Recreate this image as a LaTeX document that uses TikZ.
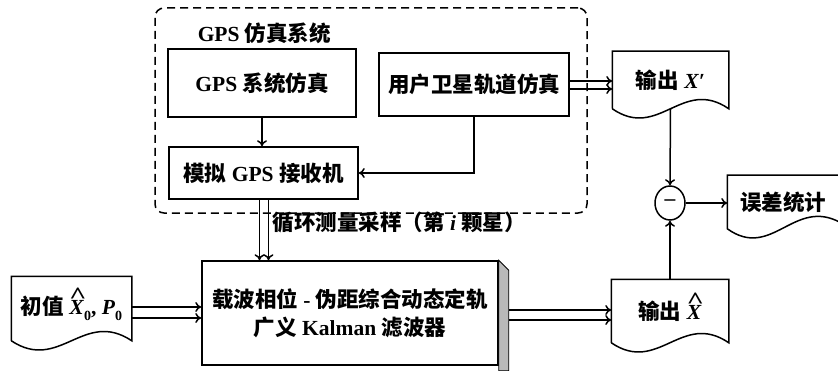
\documentclass[tikz,border=0pt]{standalone}
\usepackage{fontspec}
\usepackage{graphicx}
\setmainfont{Liberation Serif}
\newfontfamily\cjk{Noto Sans CJK SC}
\usetikzlibrary{arrows.meta,calc,shapes.geometric}
\newcommand\zh[1]{{\cjk #1}}
\newcommand\txtfont{\fontsize{21.5}{28}\selectfont\bfseries}
\newcommand\hatX{\ooalign{\textit{X}\cr\hidewidth\hspace{0.12em}\raisebox{0.5em}{\scalebox{1.4}[1.1]{\^{}}}\hidewidth\cr}}
\newcommand\docshape[2][]{%
  \draw[#1] (#2.south west) -- (#2.north west) -- (#2.north east) -- (#2.south east)
    .. controls ($(#2.south west)!0.6!(#2.south east)+(0,32)$) and ($(#2.south west)!0.4!(#2.south east)+(0,-32)$) .. (#2.south west);}
\begin{document}
\begin{tikzpicture}[x=1pt,y=1pt,line width=1.5pt,
  >={To[length=6pt,width=10pt]},
  box/.style={draw,inner sep=0pt,font=\txtfont,align=center},
  doc/.style={inner sep=0pt,font=\txtfont},
  lbl/.style={inner sep=0pt,font=\txtfont}]
\useasboundingbox (0,0) rectangle (838,370);
% simulation system frame
\node[draw,dash pattern=on 8pt off 5pt,rounded corners=9pt,minimum width=432pt,minimum height=205pt] (sim) at (371,259.5) {};
\node[lbl,anchor=west] (simlbl) at (197,337) {GPS \zh{仿真系统}};
\node[box,minimum width=188pt,minimum height=68pt] (gs) at (262,287) {GPS \zh{系统仿真}};
\node[box,minimum width=190pt,minimum height=63pt] (us) at (474,285.5) {\zh{用户卫星轨道仿真}};
\node[box,minimum width=189pt,minimum height=52pt] (rx) at (263.5,197) {\zh{模拟} GPS \zh{接收机}};
% outputs
\node[doc,minimum width=115pt,minimum height=56pt] (xp) at (670.5,290) {\zh{输出} \textit{X}′};
\docshape{xp}
\node[draw,ellipse,inner sep=0pt,minimum width=30pt,minimum height=34pt,font=\txtfont] (cc) at (670,167) {–};
\node[doc,minimum width=110pt,minimum height=52pt] (es) at (783,168) {\zh{误差统计}};
\draw ($(es.north east)+(2,0)$) -- (es.north west) -- (es.south west)
  .. controls ($(es.south west)!0.4!(es.south east)+(0,-32)$) and ($(es.south west)!0.6!(es.south east)+(0,32)$) .. ($(es.south east)+(2,6)$);
\node[doc,minimum width=116pt,minimum height=62pt] (xh) at (670,59) {\zh{输出} \hatX};
\docshape{xh}
\node[doc,minimum width=119pt,minimum height=63pt] (iv) at (71.5,61.5) {\zh{初值} \hatX\raisebox{-0.3em}{\fontsize{14}{14}\selectfont 0}, \textit{P}\raisebox{-0.3em}{\fontsize{14}{14}\selectfont 0}};
\docshape{iv}
% Kalman filter
\node[box,minimum width=296pt,minimum height=104pt] (kf) at (350,57) {\zh{载波相位} - \zh{伪距综合动态定轨}\\\zh{广义} Kalman \zh{滤波器}};
\filldraw[fill=gray!55,line width=0.9pt] (kf.north east) -- ($(kf.north east)+(10,-10)$) -- ($(kf.south east)+(10,-5)$) -- ($(kf.south east)+(0,-5)$) -- cycle;
% connectors
\draw[->] (gs.south) -- (gs.south |- rx.north);
\draw[->] (us.south) |- (rx.east);
\coordinate (a1) at ($(us.east)+(0,3.5)$);
\coordinate (a2) at ($(us.east)+(0,-4.5)$);
\draw[->] (a1) -- (a1 -| xp.west);
\draw[->] (a2) -- (a2 -| xp.west);
\draw[->] (xp.south) -- (cc.north);
\draw[->] (xh.north) -- (cc.south);
\draw[->] (cc.east) -- (cc.east -| es.west);
\coordinate (b1) at ($(rx.south)+(-4,0)$);
\coordinate (b2) at ($(rx.south)+(5,0)$);
\draw[->] (b1) -- (b1 |- kf.north);
\draw[->] (b2) -- (b2 |- kf.north);
\node[lbl,anchor=west] (samp) at (272,148) {\zh{循环测量采样（第} \textit{i} \zh{颗星）}};
\coordinate (c1) at ($(iv.east)+(0,1.5)$);
\coordinate (c2) at ($(iv.east)+(0,-9.5)$);
\draw[->] (c1) -- (c1 -| kf.west);
\draw[->] (c2) -- (c2 -| kf.west);
\coordinate (d1) at ($(kf.east)+(10,3)$);
\coordinate (d2) at ($(kf.east)+(10,-7)$);
\draw[->] (d1) -- (d1 -| xh.west);
\draw[->] (d2) -- (d2 -| xh.west);
\end{tikzpicture}
\end{document}
